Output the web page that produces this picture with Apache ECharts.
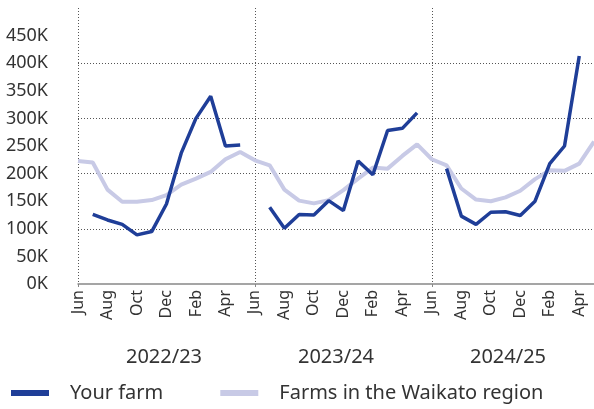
<!DOCTYPE html>
<html>
<head>
<meta charset="utf-8">
<script src="https://cdn.jsdelivr.net/npm/echarts@6/dist/echarts.min.js"></script>
<style>
  html, body { margin: 0; padding: 0; background: #fff; }
  #main { width: 594px; height: 409px; }
</style>
</head>
<body>
<div id="main"></div>
<script>
// months from Jun 2022 to May 2025
const monthNames = ['Jun','Jul','Aug','Sep','Oct','Nov','Dec','Jan','Feb','Mar','Apr','May'];
const months = [].concat(monthNames, monthNames, monthNames);
const seasons = ['2022/23', '2023/24', '2024/25'];

// values in thousands
const yourFarm = [null,126,116,108,89,95,145,237,300,340,250,252,
                  null,139,101,126,125,151,133,223,198,278,282,310,
                  null,209,123,108,130,131,124,150,218,250,413,null];
const waikato = [223,220,171,149,149,152,161,180,191,203,226,239,
                 224,215,171,151,146,152,170,191,211,209,232,253,
                 226,215,173,153,150,157,169,190,206,205,218,258];

const darkBlue = '#1f3e98';
const lightBlue = '#c8cae6';
const font = 'Noto Sans';

const chart = echarts.init(document.getElementById('main'));

const option = {
  animation: false,
  textStyle: { fontFamily: font },
  grid: { left: 78, right: 0, top: 8, bottom: 125 },
  legend: {
    bottom: 1,
    left: 6,
    icon: 'rect',
    itemWidth: 38,
    itemHeight: 6,
    itemGap: 57,
    textStyle: { fontSize: 20, color: '#333', padding: [0, 0, 0, 16] },
    data: ['Your farm', 'Farms in the Waikato region']
  },
  xAxis: [
    {
      type: 'category',
      data: months,
      boundaryGap: false,
      axisLine: { lineStyle: { color: '#888', width: 1.5 } },
      axisTick: { show: true, interval: (i) => i % 12 === 0, length: 3, lineStyle: { color: '#888' } },
      axisLabel: { interval: 1, rotate: 90, fontSize: 16, color: '#333', margin: 6 },
      splitLine: {
        show: true,
        interval: (i) => i % 12 === 0,
        lineStyle: { type: [1, 2], color: '#555', width: 1 }
      }
    },
    {
      type: 'category',
      data: seasons,
      position: 'bottom',
      offset: 56,
      boundaryGap: true,
      axisLine: { show: false },
      axisTick: { show: false },
      axisLabel: { fontSize: 20, color: '#333', margin: 7 }
    }
  ],
  yAxis: [
    {
      type: 'value',
      min: 0,
      max: 500,
      interval: 50,
      axisLine: { show: false },
      axisTick: { show: false },
      splitLine: { show: false },
      axisLabel: {
        fontSize: 18,
        color: '#333',
        margin: 30,
        padding: [0, 0, 6, 0],
        formatter: (v) => (v === 500 ? '' : v + 'K')
      }
    },
    {
      type: 'value',
      min: 0,
      max: 500,
      interval: 100,
      axisLine: { show: false },
      axisTick: { show: false },
      axisLabel: { show: false },
      splitLine: {
        show: true,
        showMinLine: false,
        showMaxLine: false,
        lineStyle: { type: [1, 2], color: '#555', width: 1 }
      }
    }
  ],
  series: [
    {
      name: 'Farms in the Waikato region',
      type: 'line',
      data: waikato,
      symbol: 'none',
      color: lightBlue,
      lineStyle: { width: 4, color: lightBlue }
    },
    {
      name: 'Your farm',
      type: 'line',
      data: yourFarm,
      symbol: 'none',
      connectNulls: false,
      color: darkBlue,
      lineStyle: { width: 3.5, color: darkBlue }
    }
  ]
};

chart.setOption(option);
</script>
</body>
</html>
